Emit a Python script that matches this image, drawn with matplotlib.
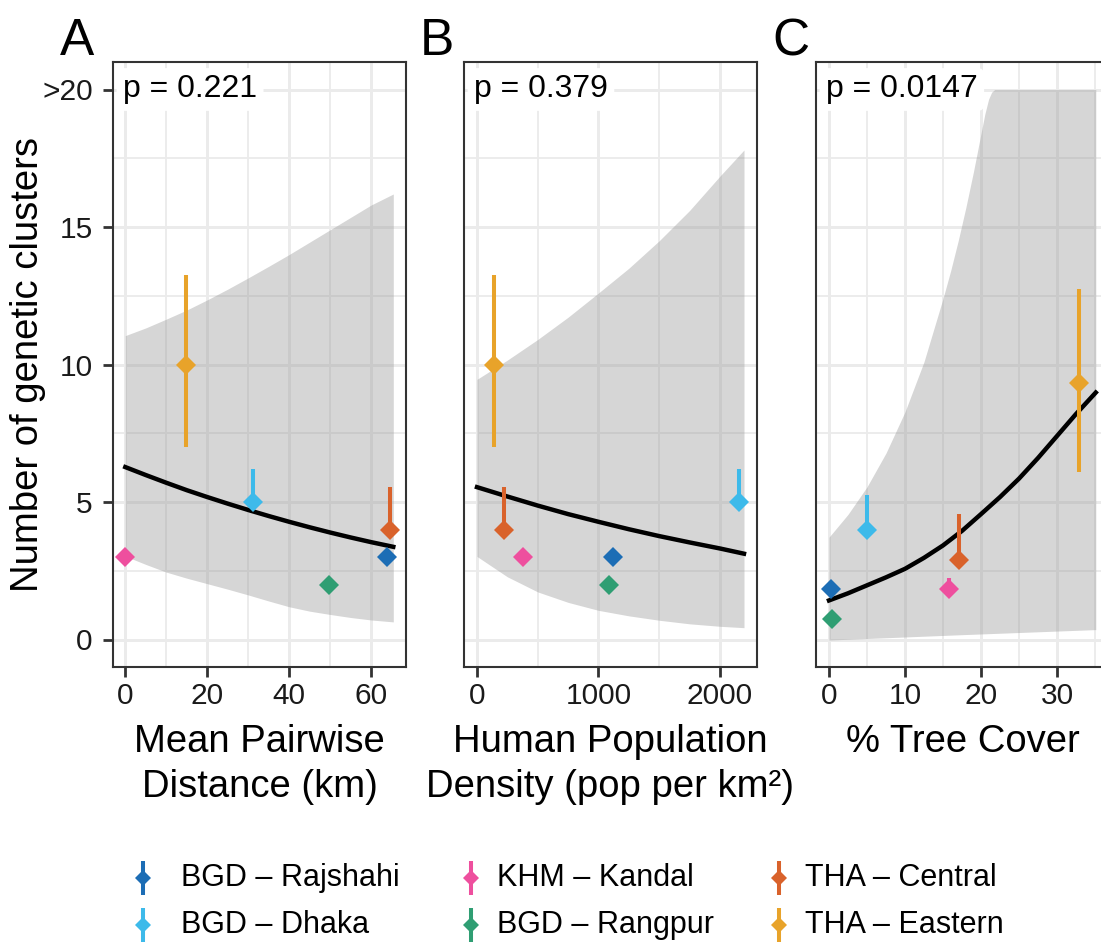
import matplotlib
matplotlib.use("Agg")
import matplotlib.pyplot as plt
from matplotlib import transforms
import numpy as np

plt.rcParams['font.family'] = ['Liberation Sans', 'DejaVu Sans']

# ---------------- data ----------------
regions = ["BGD \u2013 Rajshahi", "BGD \u2013 Dhaka", "KHM \u2013 Kandal",
           "BGD \u2013 Rangpur", "THA \u2013 Central", "THA \u2013 Eastern"]
colors = ["#1C6DB5", "#3DBAEA", "#EE4F9E", "#2F9E73", "#D9622B", "#E8A32A"]

# Panel A / B: observed number of clusters with intervals
clusters = [3, 5, 3, 2, 4, 10]
clusters_lo = [3, 5, 3, 2, 4, 7.0]
clusters_hi = [3, 6.2, 3.25, 2, 5.55, 13.25]

dist_km = [63.8, 31.2, 0.0, 49.6, 64.5, 14.7]
pop_density = [1120, 2156, 378, 1087, 222, 140]

# Panel C: model estimates
tree_cover = [0.26, 5.0, 15.8, 0.4, 17.1, 32.9]
tree_est = [1.85, 3.99, 1.85, 0.76, 2.9, 9.31]
tree_lo = [1.85, 3.99, 1.85, 0.76, 2.9, 6.1]
tree_hi = [1.85, 5.25, 2.25, 0.76, 4.57, 12.75]

# fitted curves and confidence ribbons
fitA_x = [0, 5, 10, 15, 20, 25, 30, 35, 40, 45, 50, 55, 60, 65.4]
fitA_y = [6.27, 5.98, 5.70, 5.43, 5.18, 4.94, 4.71, 4.49, 4.28, 4.08, 3.89,
          3.71, 3.54, 3.37]
fitA_lo = [3.03, 2.73, 2.45, 2.23, 2.03, 1.83, 1.62, 1.40, 1.19, 1.03, 0.91,
           0.80, 0.71, 0.64]
fitA_hi = [11.05, 11.33, 11.65, 11.98, 12.35, 12.74, 13.15, 13.57, 14.0,
           14.45, 14.9, 15.35, 15.8, 16.2]

fitB_x = [0, 250, 500, 750, 1000, 1250, 1500, 1750, 2000, 2198]
fitB_y = [5.54, 5.20, 4.87, 4.56, 4.28, 4.01, 3.76, 3.53, 3.31, 3.12]
fitB_lo = [3.02, 2.28, 1.73, 1.35, 1.06, 0.86, 0.70, 0.57, 0.48, 0.43]
fitB_hi = [9.46, 10.16, 10.91, 11.72, 12.6, 13.5, 14.5, 15.6, 16.85, 17.8]

fitC_x = [0, 2.5, 5, 7.5, 10, 12.5, 15, 17.5, 20, 22.5, 25, 27.5, 30, 32.5, 35.1]
fitC_y = [1.42, 1.68, 1.97, 2.26, 2.57, 2.97, 3.42, 3.95, 4.56, 5.18, 5.85,
          6.6, 7.4, 8.2, 8.98]
ribC_x = [0, 2.5, 5, 7.5, 10, 12.5, 15, 16, 17, 18, 19, 20, 20.5, 21, 21.4,
          21.8, 35.1]
ribC_hi = [3.72, 4.55, 5.55, 6.78, 8.28, 10.1, 12.4, 13.4, 14.5, 15.7, 17.0,
           18.4, 19.1, 19.65, 19.9, 20, 20]
ribC_lo_x = [0, 17, 35.1]
ribC_lo = [-0.02, 0.17, 0.36]

p_values = ["p = 0.221", "p = 0.379", "p = 0.0147"]
xlabels = [["Mean Pairwise", "Distance (km)"],
           ["Human Population", "Density (pop per km\u00b2)"],
           ["% Tree Cover"]]
panel_letters = ["A", "B", "C"]
yticks = [0, 5, 10, 15, 20]
ytick_labels = ["0", "5", "10", "15", ">20"]

# ---------------- layout ----------------
W, H = 1101, 943
fig = plt.figure(figsize=(W / 100, H / 100), dpi=100)


def px_axes(l, t, r, b):
    return fig.add_axes([l / W, 1 - b / H, (r - l) / W, (b - t) / H])


axA = px_axes(113, 62, 406, 667)
axB = px_axes(464, 62, 757, 667)
axC = px_axes(816, 62, 1109, 667)
axes = [axA, axB, axC]

GRID = "#EBEBEB"
SPINE = "#333333"
RIB = "#999999"
TXT = "#1A1A1A"

xlims = [(-3.0, 68.5), (-107, 2305), (-1.71, 36.84)]
xmaj = [[0, 20, 40, 60], [0, 1000, 2000], [0, 10, 20, 30]]
xmin = [[10, 30, 50], [500, 1500], [5, 15, 25, 35]]

for i, ax in enumerate(axes):
    ax.set_xlim(*xlims[i])
    ax.set_ylim(-1, 21)
    ax.set_axisbelow(True)
    ax.set_xticks(xmaj[i])
    ax.set_xticks(xmin[i], minor=True)
    ax.set_yticks(yticks)
    ax.set_yticks([2.5, 7.5, 12.5, 17.5], minor=True)
    ax.grid(which="major", color=GRID, lw=2.1)
    ax.grid(which="minor", color=GRID, lw=1.3)
    for s in ax.spines.values():
        s.set_color(SPINE)
        s.set_linewidth(1.5)
    ax.tick_params(which="minor", length=0)
    ax.tick_params(axis="x", which="major", length=7, width=2, color=SPINE,
                   pad=4, labelsize=21.5, labelcolor=TXT)
    if i == 0:
        ax.set_yticklabels(ytick_labels)
        ax.tick_params(axis="y", which="major", length=7, width=2, color=SPINE,
                       pad=7.5, labelsize=21.5, labelcolor=TXT)
    else:
        ax.tick_params(axis="y", which="major", length=0, labelleft=False)

# ribbons and fits
axA.fill_between(fitA_x, fitA_lo, fitA_hi, color=RIB, alpha=0.4, lw=0, zorder=2)
axA.plot(fitA_x, fitA_y, color="black", lw=3.2, zorder=3)
axB.fill_between(fitB_x, fitB_lo, fitB_hi, color=RIB, alpha=0.4, lw=0, zorder=2)
axB.plot(fitB_x, fitB_y, color="black", lw=3.2, zorder=3)
lo_on_hi = np.interp(ribC_x, ribC_lo_x, ribC_lo)
axC.fill_between(ribC_x, lo_on_hi, ribC_hi, color=RIB, alpha=0.4, lw=0, zorder=2)
axC.plot(fitC_x, fitC_y, color="black", lw=3.2, zorder=3)

# points with intervals
panel_pts = [(dist_km, clusters, clusters_lo, clusters_hi),
             (pop_density, clusters, clusters_lo, clusters_hi),
             (tree_cover, tree_est, tree_lo, tree_hi)]
for ax, (xs, ys, los, his) in zip(axes, panel_pts):
    for k in range(len(regions)):
        if his[k] > los[k]:
            ax.vlines(xs[k], los[k], his[k], color=colors[k], lw=2.9, zorder=4)
        ax.plot([xs[k]], [ys[k]], marker="D", ms=10.5, mew=0,
                color=colors[k], zorder=5, linestyle="none")

# p-value labels
for ax, ptxt in zip(axes, p_values):
    trans = transforms.blended_transform_factory(ax.transAxes, ax.transData)
    trans = transforms.offset_copy(trans, fig=fig, x=0, y=-8 * 0.72, units="points")
    ax.text(10 / 293, 20, ptxt, transform=trans, ha="left", va="baseline",
            fontsize=23, color="black", zorder=10,
            bbox=dict(boxstyle="round,pad=0.2,rounding_size=0.2",
                      facecolor="white", edgecolor="none"))

# figure-level texts via overlay axes in pixel coords
ov = fig.add_axes([0, 0, 1, 1], facecolor="none")
ov.set_xlim(0, W)
ov.set_ylim(H, 0)
ov.axis("off")

ov.text(28, 364.5, "Number of genetic clusters", rotation=90, ha="center",
        va="center", fontsize=27.5, color="black")

centers = [(113 + 406) / 2, (464 + 757) / 2, (816 + 1109) / 2]
panel_left = [60, 420, 772]
for i in range(3):
    for j, line in enumerate(xlabels[i]):
        ov.text(centers[i], 752 + 45 * j, line, ha="center", va="baseline",
                fontsize=27.5, color="black")
    ov.text(panel_left[i], 55, panel_letters[i], ha="left", va="baseline",
            fontsize=37, color="black")

# legend (column-wise, 3 columns x 2 rows)
key_x = [143, 471, 779]
txt_x = [181, 497, 805]
row_y = [878, 925]
for k, (lab, col) in enumerate(zip(regions, colors)):
    c, r = divmod(k, 2)
    ov.plot([key_x[c], key_x[c]], [row_y[r] - 17, row_y[r] + 17], color=col,
            lw=2.9, solid_capstyle="butt")
    ov.plot([key_x[c]], [row_y[r]], marker="D", ms=8, mew=0, color=col,
            linestyle="none")
    ov.text(txt_x[c], row_y[r], lab, ha="left", va="center", fontsize=22,
            color="black")

fig.savefig("out.png", dpi=100)
